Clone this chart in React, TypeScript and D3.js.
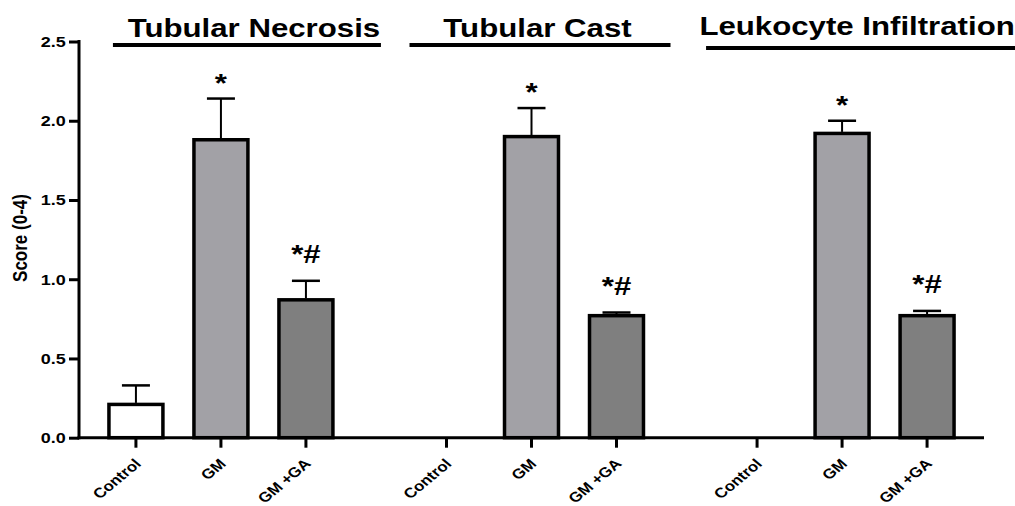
import React, { useEffect, useRef } from 'react';
import * as d3 from 'd3';

// histology scores
const groups = ['Tubular Necrosis', 'Tubular Cast', 'Leukocyte Infiltration'];
const conditions = ['Control', 'GM', 'GM +GA'];

const controlMean = [0.21, 0, 0];
const controlSem = [0.12, 0, 0];
const gmMean = [1.88, 1.9, 1.92];
const gmSem = [0.26, 0.18, 0.08];
const gmgaMean = [0.87, 0.77, 0.77];
const gmgaSem = [0.12, 0.02, 0.03];

const gmMarks = ['*', '*', '*'];
const gmgaMarks = ['*#', '*#', '*#'];

const yTicks = [0, 0.5, 1, 1.5, 2, 2.5];

const fills: Record<string, string> = {
  Control: '#ffffff',
  GM: '#a2a1a6',
  'GM +GA': '#7f7f7f',
};

// hand-placed title positions relative to group centre
const titleLayout = [
  { dx: 33, y: 37, lineL: -108, lineR: 160, lineY: 45 },
  { dx: 6, y: 37, lineL: -122, lineR: 139, lineY: 45 },
  { dx: 15, y: 35, lineL: -136, lineR: 180, lineY: 48 },
];

const FONT = '"Liberation Sans", Arial, sans-serif';
const SX = 1.2; // the source figure is stretched horizontally

interface Row {
  group: string;
  cond: string;
  mean: number;
  sem: number;
  mark: string;
}

const App: React.FC = () => {
  const svgRef = useRef<SVGSVGElement>(null);
  const width = 1015;
  const height = 506;

  useEffect(() => {
    if (!svgRef.current) return;
    const svg = d3.select(svgRef.current);
    svg.selectAll('*').remove();

    const rows: Row[] = [];
    groups.forEach((g, i) => {
      rows.push({ group: g, cond: 'Control', mean: controlMean[i], sem: controlSem[i], mark: '' });
      rows.push({ group: g, cond: 'GM', mean: gmMean[i], sem: gmSem[i], mark: gmMarks[i] });
      rows.push({ group: g, cond: 'GM +GA', mean: gmgaMean[i], sem: gmgaSem[i], mark: gmgaMarks[i] });
    });

    const axisX = 79;
    const axisRight = 984;

    const y = d3.scaleLinear().domain([0, 2.5]).range([437.7, 41.5]);
    const gx = d3.scalePoint<string>().domain(groups).range([axisX, axisRight]).padding(0.457);
    const cx = d3
      .scaleBand<string>()
      .domain(conditions)
      .range([-127.5, 127.5])
      .paddingInner(0.365)
      .paddingOuter(0.1825);
    const bw = cx.bandwidth();
    const center = (r: { group: string; cond: string }) => (gx(r.group) as number) + (cx(r.cond) as number) + bw / 2;

    // Bars
    svg
      .append('g')
      .selectAll('rect')
      .data(rows.filter(r => r.mean > 0))
      .join('rect')
      .attr('x', d => center(d) - bw / 2)
      .attr('y', d => y(d.mean))
      .attr('width', bw)
      .attr('height', d => y(0) - y(d.mean))
      .attr('fill', d => fills[d.cond])
      .attr('stroke', '#000')
      .attr('stroke-width', 3.5);

    // Error bars
    const err = svg.append('g').selectAll('g').data(rows.filter(r => r.sem > 0)).join('g');
    err
      .append('line')
      .attr('x1', d => center(d))
      .attr('x2', d => center(d))
      .attr('y1', d => y(d.mean) - 1.5)
      .attr('y2', d => y(d.mean + d.sem))
      .attr('stroke', '#000')
      .attr('stroke-width', 2);
    err
      .append('line')
      .attr('x1', d => center(d) - 14)
      .attr('x2', d => center(d) + 14)
      .attr('y1', d => y(d.mean + d.sem))
      .attr('y2', d => y(d.mean + d.sem))
      .attr('stroke', '#000')
      .attr('stroke-width', 2.5);

    // Significance marks
    svg
      .append('g')
      .selectAll('text')
      .data(rows.filter(r => r.mark))
      .join('text')
      .attr('transform', d => {
        const off = d.mark === '*' ? 7 : 18;
        return `translate(${center(d)},${y(d.mean + d.sem) - off}) scale(${SX},1)`;
      })
      .attr('text-anchor', 'middle')
      .attr('font-family', FONT)
      .attr('font-weight', 'bold')
      .attr('font-size', 26)
      .text(d => d.mark);

    // Y axis
    const yAxis = svg
      .append('g')
      .attr('transform', `translate(${axisX},0)`)
      .call(
        d3
          .axisLeft(y)
          .tickValues(yTicks)
          .tickFormat(d3.format('.1f'))
          .tickSize(10)
          .tickSizeOuter(0)
          .tickPadding(1)
      );
    yAxis.select('.domain').attr('stroke-width', 3).attr('d', `M0,${y(0) + 1.5}V${y(2.5) - 1.5}`);
    yAxis.selectAll('.tick line').attr('stroke-width', 3);
    yAxis
      .selectAll('.tick text')
      .attr('transform', `scale(${SX},1)`)
      .attr('font-family', FONT)
      .attr('font-weight', 'bold')
      .attr('font-size', 15)
      .attr('fill', '#000');

    svg
      .append('g')
      .attr('transform', `translate(27,238) scale(${SX},1)`)
      .append('text')
      .attr('transform', 'rotate(-90)')
      .attr('text-anchor', 'middle')
      .attr('font-family', FONT)
      .attr('font-weight', 'bold')
      .attr('font-size', 17)
      .text('Score (0-4)');

    // X axis
    svg
      .append('line')
      .attr('x1', axisX - 1.5)
      .attr('x2', axisRight)
      .attr('y1', y(0))
      .attr('y2', y(0))
      .attr('stroke', '#000')
      .attr('stroke-width', 3);

    const xt = svg.append('g').selectAll('g').data(rows).join('g');
    xt.append('line')
      .attr('x1', d => center(d))
      .attr('x2', d => center(d))
      .attr('y1', y(0))
      .attr('y2', y(0) + 10)
      .attr('stroke', '#000')
      .attr('stroke-width', 3);
    // stretched 45 degree labels: scale(SX,1) * rotate(-45) as one matrix
    const c45 = Math.SQRT1_2;
    xt.append('text')
      .attr(
        'transform',
        d => `matrix(${SX * c45},${-c45},${SX * c45},${c45},${center(d) + 6},${y(0) + 27})`
      )
      .attr('text-anchor', 'end')
      .attr('font-family', FONT)
      .attr('font-weight', 'bold')
      .attr('font-size', 14)
      .text(d => d.cond);

    // Group titles with underline
    groups.forEach((g, i) => {
      const c = gx(g) as number;
      const t = titleLayout[i];
      svg
        .append('text')
        .attr('transform', `translate(${c + t.dx},${t.y}) scale(${SX},1)`)
        .attr('text-anchor', 'middle')
        .attr('font-family', FONT)
        .attr('font-weight', 'bold')
        .attr('font-size', 26)
        .text(g);
      svg
        .append('line')
        .attr('x1', c + t.lineL)
        .attr('x2', c + t.lineR)
        .attr('y1', t.lineY)
        .attr('y2', t.lineY)
        .attr('stroke', '#000')
        .attr('stroke-width', 4);
    });
  }, []);

  return (
    <svg
      ref={svgRef}
      width={width}
      height={height}
      style={{ position: 'absolute', left: 0, top: 0, background: '#fff' }}
    />
  );
};

export default App;
